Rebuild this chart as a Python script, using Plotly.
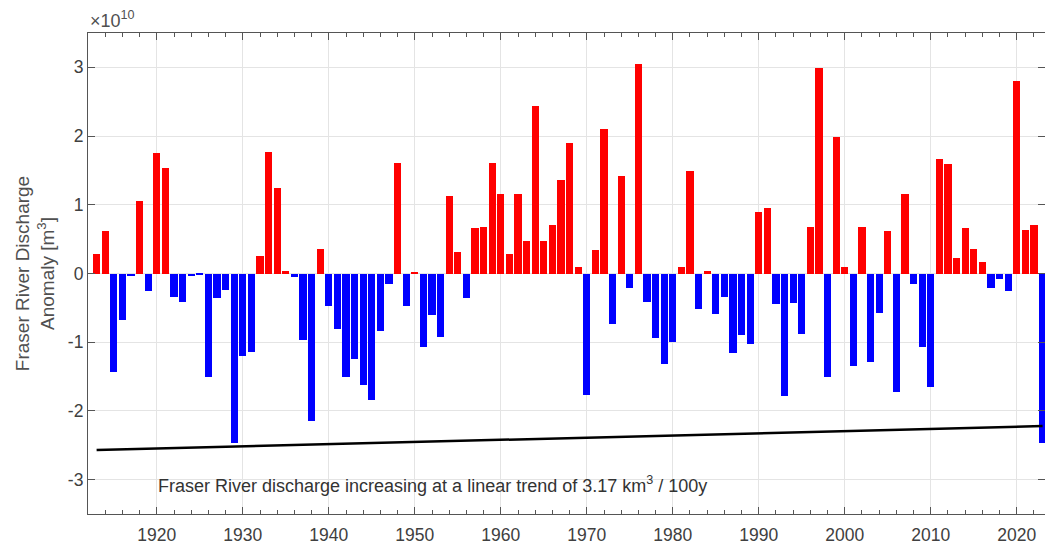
import plotly.graph_objects as go

# Fraser River discharge anomaly, units of 1e10 m^3
years = list(range(1913, 2024))
anomaly = [
    0.28, 0.62, -1.43, -0.67, -0.04, 1.05, -0.25, 1.75, 1.54, -0.34,   # 1913-1922
    -0.41, -0.04, -0.01, -1.50, -0.35, -0.24, -2.46, -1.20, -1.14, 0.26,  # 1923-1932
    1.77, 1.25, 0.04, -0.05, -0.97, -2.15, 0.35, -0.47, -0.81, -1.51,  # 1933-1942
    -1.25, -1.62, -1.84, -0.83, -0.16, 1.61, -0.47, 0.02, -1.07, -0.61,  # 1943-1952
    -0.92, 1.13, 0.31, -0.36, 0.66, 0.67, 1.61, 1.16, 0.29, 1.16,  # 1953-1962
    0.48, 2.44, 0.47, 0.70, 1.36, 1.90, 0.09, -1.77, 0.34, 2.11,  # 1963-1972
    -0.74, 1.42, -0.21, 3.05, -0.41, -0.94, -1.31, -0.99, 0.10, 1.49,  # 1973-1982
    -0.52, 0.04, -0.59, -0.34, -1.15, -0.90, -1.03, 0.90, 0.96, -0.44,  # 1983-1992
    -1.78, -0.43, -0.88, 0.67, 2.99, -1.50, 1.99, 0.10, -1.35, 0.67,  # 1993-2002
    -1.29, -0.57, 0.62, -1.72, 1.16, -0.16, -1.07, -1.65, 1.67, 1.60,  # 2003-2012
    0.22, 0.66, 0.36, 0.17, -0.21, -0.08, -0.25, 2.80, 0.64, 0.70,  # 2013-2022
    -2.46,  # 2023
]
trend_years = [1913, 2023]
trend_values = [-2.57, -2.22]
x_ticks = [1920, 1930, 1940, 1950, 1960, 1970, 1980, 1990, 2000, 2010, 2020]
y_ticks = [-3, -2, -1, 0, 1, 2, 3]
y_tick_labels = ["-3", "-2", "-1", "0", "1", "2", "3"]
annotation_text = "Fraser River discharge increasing at a linear trend of 3.17 km<sup>3</sup> / 100y"
y_title = "Fraser River Discharge<br>Anomaly [m<sup>3</sup>]"

colors = ["#ff0000" if v > 0 else "#0000ff" for v in anomaly]

FONT = "Liberation Sans, Arial, sans-serif"
TXT = "#404040"
AX = "#555555"

fig = go.Figure()
fig.add_trace(go.Bar(x=years, y=anomaly, marker=dict(color=colors, line=dict(width=0)),
                     width=0.85, showlegend=False))
fig.add_trace(go.Scatter(x=trend_years, y=trend_values, mode="lines",
                         line=dict(color="black", width=2.5), showlegend=False))

fig.update_layout(
    width=1045, height=546,
    margin=dict(l=88, r=0, t=33, b=32),
    paper_bgcolor="white", plot_bgcolor="white",
    font=dict(family=FONT, color=TXT, size=17),
    bargap=0,
)
fig.update_xaxes(
    range=[1912, 2023.28], tickvals=x_ticks,
    ticks="inside", ticklen=7, tickcolor=AX, tickwidth=1,
    minor=dict(ticks="inside", dtick=2, tick0=1912, ticklen=4, tickcolor=AX, showgrid=False),
    showline=True, linecolor=AX, linewidth=1.2, mirror="ticks",
    showgrid=True, gridcolor="#e4e4e4", gridwidth=1,
    zeroline=False, tickfont=dict(size=17.5, color=TXT), ticklabelstandoff=5,
)
fig.update_yaxes(
    range=[-3.5, 3.5], tickvals=y_ticks, ticktext=y_tick_labels,
    ticks="inside", ticklen=7, tickcolor=AX, tickwidth=1,
    showline=True, linecolor=AX, linewidth=1.2, mirror="ticks",
    showgrid=True, gridcolor="#e4e4e4", gridwidth=1,
    zeroline=False, tickfont=dict(size=17.5, color=TXT),
    title=dict(text=y_title, font=dict(size=19, color="#505050"), standoff=8),
)
fig.add_annotation(x=1919.9, y=-3.07, xref="x", yref="y", text=annotation_text,
                   showarrow=False, xanchor="left", yanchor="middle",
                   font=dict(size=18, color="#333333"))
fig.add_annotation(x=0, y=1, xref="paper", yref="paper", text="×10<sup>10</sup>",
                   showarrow=False, xanchor="left", yanchor="bottom", yshift=0,
                   font=dict(size=18, color="#505050"))

fig.write_html("out.html")
